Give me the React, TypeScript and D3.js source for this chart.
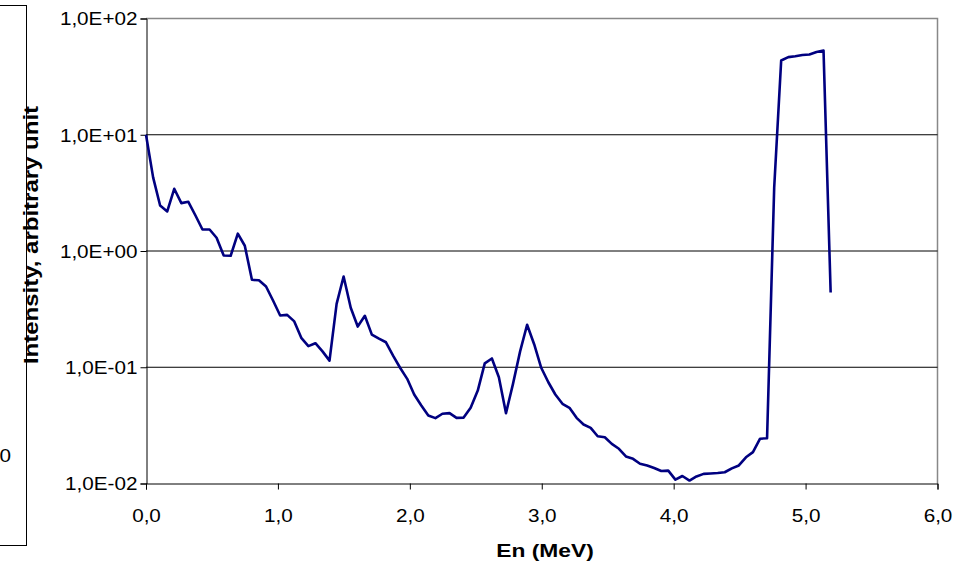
import React, { useEffect, useRef } from 'react'
import * as d3 from 'd3'

// neutron energy (MeV)
const energies = [
  0.0, 0.054, 0.107, 0.161, 0.214, 0.268, 0.321, 0.375, 0.428, 0.482,
  0.535, 0.589, 0.642, 0.696, 0.749, 0.803, 0.856, 0.91, 0.963, 1.017,
  1.07, 1.124, 1.177, 1.231, 1.284, 1.338, 1.391, 1.445, 1.498, 1.552,
  1.605, 1.659, 1.712, 1.766, 1.819, 1.873, 1.926, 1.98, 2.033, 2.087,
  2.14, 2.194, 2.247, 2.301, 2.354, 2.408, 2.461, 2.515, 2.568, 2.622,
  2.675, 2.729, 2.782, 2.836, 2.889, 2.943, 2.996, 3.05, 3.103, 3.157,
  3.21, 3.264, 3.317, 3.371, 3.424, 3.478, 3.531, 3.585, 3.638, 3.692,
  3.745, 3.799, 3.852, 3.906, 3.959, 4.013, 4.066, 4.12, 4.173, 4.227,
  4.28, 4.334, 4.387, 4.441, 4.494, 4.548, 4.601, 4.655, 4.708, 4.762,
  4.815, 4.869, 4.922, 4.976, 5.029, 5.083, 5.136, 5.19
]

// intensity, arbitrary unit
const intensities = [
  10, 4.3, 2.46, 2.19, 3.43, 2.58, 2.65, 2.02, 1.53, 1.53,
  1.3, 0.914, 0.91, 1.41, 1.11, 0.565, 0.56, 0.495, 0.375, 0.279,
  0.282, 0.248, 0.179, 0.152, 0.161, 0.137, 0.114, 0.351, 0.604, 0.325,
  0.224, 0.277, 0.191, 0.176, 0.164, 0.126, 0.099, 0.0795, 0.0583, 0.0469,
  0.0385, 0.0365, 0.0398, 0.0403, 0.0367, 0.0369, 0.0448, 0.063, 0.108, 0.119,
  0.082, 0.0403, 0.072, 0.137, 0.232, 0.157, 0.099, 0.0743, 0.0583, 0.0485,
  0.0448, 0.0367, 0.0322, 0.0301, 0.0255, 0.025, 0.0219, 0.0199, 0.0171, 0.0163,
  0.0148, 0.0143, 0.0136, 0.0128, 0.0129, 0.0108, 0.0116, 0.0106, 0.0115, 0.0121,
  0.0122, 0.0123, 0.0125, 0.0135, 0.0143, 0.0168, 0.0186, 0.0243, 0.0245, 3.5,
  43.5, 46.5, 47.3, 48.5, 49, 51.5, 53, 0.44
]

const xTicks = [0, 1, 2, 3, 4, 5, 6]
const yTicks = [0.01, 0.1, 1, 10, 100]

const xTitle = 'En (MeV)'
const yTitle = 'Intensity, arbitrary unit'

const W = 954
const H = 563
const FONT = '"Liberation Sans", Arial, sans-serif'

const fmtY = (d) => {
  const e = Math.round(Math.log10(d))
  return '1,0E' + (e < 0 ? '-' : '+') + String(Math.abs(e)).padStart(2, '0')
}
const fmtX = (d) => d3.format('.1f')(d).replace('.', ',')

const App = () => {
  const svgRef = useRef(null)

  useEffect(() => {
    const svg = d3.select(svgRef.current)
    svg.selectAll('*').remove()

    const x = d3.scaleLinear().domain([0, 6]).range([146, 937.5])
    const y = d3.scaleLog().domain([0.01, 100]).range([483.5, 18.5])

    // cut-off box on the left
    svg.append('rect')
      .attr('x', -10).attr('y', 5.5)
      .attr('width', 36.5).attr('height', 540)
      .attr('fill', 'none').attr('stroke', '#000').attr('stroke-width', 1)
    svg.append('text')
      .attr('transform', 'translate(11,462) scale(1.15,1)')
      .attr('text-anchor', 'end')
      .attr('font-family', FONT).attr('font-size', 18)
      .text('0')

    // plot border (grey, top and right)
    svg.append('path')
      .attr('d', `M${x(0)},${y(100)}H${x(6)}V${y(0.01)}`)
      .attr('fill', 'none').attr('stroke', '#888').attr('stroke-width', 1.5)

    // gridlines
    svg.append('g')
      .selectAll('line')
      .data(yTicks.filter(d => d > 0.01 && d < 100))
      .join('line')
      .attr('x1', x(0)).attr('x2', x(6))
      .attr('y1', d => y(d)).attr('y2', d => y(d))
      .attr('stroke', '#000').attr('stroke-width', 1)

    // y axis
    const yAxis = d3.axisLeft(y).tickValues(yTicks).tickSize(6).tickPadding(8).tickFormat(fmtY)
    const gy = svg.append('g').attr('transform', `translate(${x(0) + 0.5},0)`).call(yAxis)
    gy.select('.domain').attr('stroke', '#000')
    gy.selectAll('.tick line').attr('stroke', '#000')
    gy.selectAll('.tick text')
      .attr('font-family', FONT).attr('font-size', 18).attr('fill', '#000')
      .attr('x', null).attr('dy', '0.35em')
      .attr('transform', 'translate(-9,0) scale(1.15,1)')

    // x axis
    const xAxis = d3.axisBottom(x).tickValues(xTicks).tickSize(6).tickPadding(0).tickFormat(fmtX)
    const gx = svg.append('g').attr('transform', `translate(0,${y(0.01)})`).call(xAxis)
    gx.select('.domain').attr('stroke', '#000')
    gx.selectAll('.tick line').attr('stroke', '#000')
    gx.selectAll('.tick text')
      .attr('font-family', FONT).attr('font-size', 18).attr('fill', '#000')
      .attr('y', null).attr('dy', null)
      .attr('transform', 'translate(0,38) scale(1.15,1)')

    // curve
    const data = energies.map((e, i) => [e, intensities[i]])
    const line = d3.line().x(d => x(d[0])).y(d => y(d[1]))
    svg.append('path')
      .datum(data)
      .attr('d', line)
      .attr('fill', 'none')
      .attr('stroke', '#000080')
      .attr('stroke-width', 2.6)
      .attr('stroke-linejoin', 'round')

    // axis titles
    svg.append('text')
      .attr('transform', 'translate(545,557) scale(1.2,1)')
      .attr('text-anchor', 'middle')
      .attr('font-family', FONT).attr('font-size', 19).attr('font-weight', 'bold')
      .text(xTitle)
    svg.append('text')
      .attr('transform', 'translate(38,235) rotate(-90) scale(1.2,1)')
      .attr('text-anchor', 'middle')
      .attr('font-family', FONT).attr('font-size', 20).attr('font-weight', 'bold')
      .text(yTitle)
  }, [])

  return (
    <svg
      ref={svgRef}
      width={W}
      height={H}
      style={{ position: 'absolute', left: 0, top: 0, background: '#fff' }}
    />
  )
}

export default App
